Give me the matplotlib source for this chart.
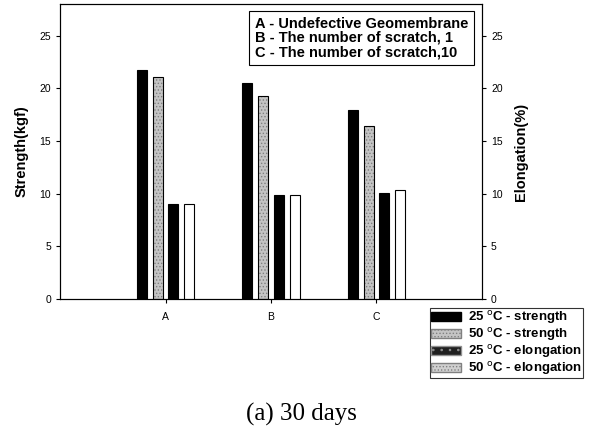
import numpy as np
import matplotlib.pyplot as plt
from matplotlib.patches import Patch

plt.rcParams['font.family'] = ['Liberation Sans', 'DejaVu Sans']
plt.rcParams['hatch.linewidth'] = 0.6

groups = ['A', 'B', 'C']
strength_25 = [21.7, 20.5, 17.9]
strength_50 = [21.1, 19.3, 16.4]
elong_25 = [9.0, 9.9, 10.1]
elong_50 = [9.05, 9.9, 10.3]

x = np.arange(1, len(groups) + 1)
w = 0.095

fig = plt.figure(figsize=(5.95, 4.34), dpi=100)
ax = fig.add_axes([0.101, 0.311, 0.709, 0.68])
ax2 = ax.twinx()

ax.bar(x - 0.225, strength_25, w, color='black', edgecolor='black', lw=0.8)
# stippled grey bars: dots drawn in grey, outline drawn on top in black
ax.bar(x - 0.075, strength_50, w, color='#c4c4c4', edgecolor='#808080',
       lw=0, hatch='.....')
ax.bar(x - 0.075, strength_50, w, fill=False, edgecolor='black', lw=0.8)
ax2.bar(x + 0.075, elong_25, w, color='black', edgecolor='black', lw=0.8)
ax2.bar(x + 0.225, elong_50, w, color='white', edgecolor='black', lw=0.8)

for a in (ax, ax2):
    a.set_xlim(0, 4)
    a.set_ylim(0, 28)
    a.set_yticks([0, 5, 10, 15, 20, 25])
    a.tick_params(labelsize=7.5, length=3, width=0.8)
ax.set_xticks(x)
ax.set_xticklabels(groups)
ax.tick_params(axis='x', pad=6)

ax.set_ylabel('Strength(kgf)', fontsize=10.5, fontweight='bold', labelpad=8)
ax2.set_ylabel('Elongation(%)', fontsize=10.5, fontweight='bold', labelpad=8)

ax.text(0.968, 0.957,
        'A - Undefective Geomembrane\nB - The number of scratch, 1\nC - The number of scratch,10',
        transform=ax.transAxes, ha='right', va='top', multialignment='left',
        fontsize=10.5, fontweight='bold', linespacing=1.02,
        bbox=dict(boxstyle='square,pad=0.4', fc='white', ec='black', lw=0.8))

handles = [
    Patch(facecolor='black', edgecolor='black'),
    Patch(facecolor='#c4c4c4', edgecolor='#808080', hatch='.....'),
    Patch(facecolor='#202020', edgecolor='#909090', hatch='..'),
    Patch(facecolor='#d0d0d0', edgecolor='#808080', hatch='.....'),
]
labels = ['25 $^{\\mathrm{o}}$C - strength', '50 $^{\\mathrm{o}}$C - strength',
          '25 $^{\\mathrm{o}}$C - elongation', '50 $^{\\mathrm{o}}$C - elongation']
leg = fig.legend(handles, labels, loc='upper left', bbox_to_anchor=(0.722, 0.291),
                 prop={'weight': 'bold', 'size': 9.5}, frameon=True,
                 fancybox=False, edgecolor='black', borderpad=0.1, labelspacing=0.0,
                 handlelength=2.3, handleheight=0.7, handletextpad=0.5,
                 borderaxespad=0)
leg.get_frame().set_linewidth(0.8)

fig.text(0.507, 0.045, '(a) 30 days', ha='center', va='center', fontsize=18,
         family=['Liberation Serif', 'DejaVu Serif'])

fig.savefig('out.png', dpi=100)
